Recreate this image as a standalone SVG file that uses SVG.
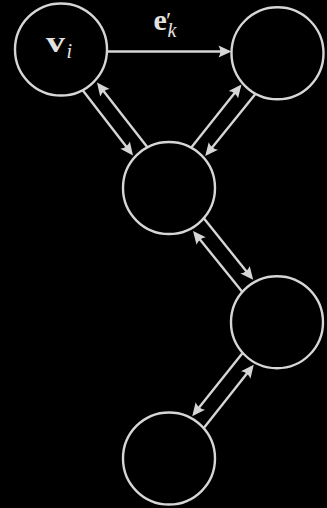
<svg xmlns="http://www.w3.org/2000/svg" width="327" height="508" viewBox="0 0 327 508">
<defs>
<style>
.node{fill:#000;stroke:#d6d6d6;stroke-width:2.4}
.edge{fill:none;stroke:#d6d6d6;stroke-width:2.4;marker-end:url(#ah)}
.lbl{fill:#e2e2e2;font-family:"Liberation Serif","DejaVu Serif",serif}
.b{font-weight:bold;font-size:30px}
.s{font-style:italic;font-weight:normal;font-size:20px}
.p{font-weight:normal;font-size:24px}
</style>
<marker id="ah" markerUnits="userSpaceOnUse" orient="auto" refX="0" refY="0" markerWidth="20" markerHeight="20" style="overflow:visible">
<path d="M3,0 L-10,-6 Q-6.5,0 -10,6 Z" fill="#d6d6d6"/>
</marker>
</defs>
<rect x="0" y="0" width="327" height="508" fill="#000"/>
<g id="edges">
<line class="edge" x1="107" y1="51.5" x2="228.5" y2="51.5"/>
<line class="edge" x1="82.5" y1="90" x2="131.2" y2="153.1"/>
<line class="edge" x1="147.2" y1="147" x2="98.8" y2="84.9"/>
<line class="edge" x1="191.5" y1="147.2" x2="239.6" y2="86.8"/>
<line class="edge" x1="255" y1="94.5" x2="207.1" y2="153.7"/>
<line class="edge" x1="204" y1="218.6" x2="251.3" y2="277.5"/>
<line class="edge" x1="242" y1="291.4" x2="194.9" y2="233.3"/>
<line class="edge" x1="242.2" y1="353.5" x2="194.1" y2="413.8"/>
<line class="edge" x1="204.2" y1="427.4" x2="251.9" y2="367.2"/>
</g>
<g id="edge-label">
<text class="lbl b" x="153.5" y="30">e<tspan class="p" x="166" y="28">′</tspan><tspan class="s" x="167.5" y="36.5">k</tspan></text>
</g>
<g id="node-vi">
<circle class="node" cx="61" cy="49.5" r="46"/>
<text class="lbl b" x="46" y="51.5"><tspan textLength="19" lengthAdjust="spacingAndGlyphs">v</tspan><tspan class="s" x="66.5" y="57.5">i</tspan></text>
</g>
<g id="node-b">
<circle class="node" cx="277.5" cy="53.3" r="46"/>
</g>
<g id="node-c">
<circle class="node" cx="169" cy="188" r="46"/>
</g>
<g id="node-d">
<circle class="node" cx="277" cy="322.2" r="46"/>
</g>
<g id="node-e">
<circle class="node" cx="169" cy="458.5" r="46"/>
</g>
</svg>
